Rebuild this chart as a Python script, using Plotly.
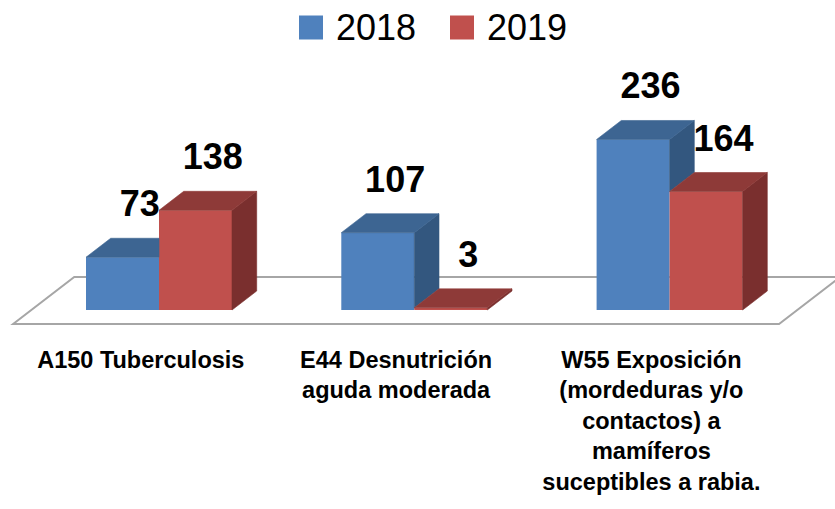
import plotly.graph_objects as go

# ---------------- data ----------------
categories = [
    "A150 Tuberculosis",
    "E44 Desnutrición<br>aguda moderada",
    "W55 Exposición<br>(mordeduras y/o<br>contactos) a<br>mamíferos<br>suceptibles a rabia.",
]
series_names = ["2018", "2019"]
values_2018 = [73, 107, 236]
values_2019 = [138, 3, 164]

# ---------------- styling / geometry ----------------
W_PX, H_PX = 835, 509
PB = 343                      # pixel row of the plot-area bottom
PX_PER_CAT = 255.3
PX_PER_VAL = 0.7225
ZERO_PX_X = 159.0             # pixel x of first category centre (bar front plane)
ZERO_PX_Y = 310.0             # pixel y of value 0 (bar front plane)

x_range = [(0 - ZERO_PX_X) / PX_PER_CAT, (W_PX - ZERO_PX_X) / PX_PER_CAT]
y_range = [(ZERO_PX_Y - PB) / PX_PER_VAL, ZERO_PX_Y / PX_PER_VAL]

KX = 1.3 / PX_PER_CAT         # depth -> x (per pixel of depth)
KV = 1.0 / PX_PER_VAL         # depth -> value (per pixel of depth)
BAR_DEPTH = 19
DDX, DDV = KX * BAR_DEPTH, KV * BAR_DEPTH
BAR_W = 73 / PX_PER_CAT

front = {"2018": "#4F81BD", "2019": "#C0504D"}
top = {"2018": "#3D6592", "2019": "#8E3A38"}
side = {"2018": "#33577F", "2019": "#7A2F2E"}

FONT = "Liberation Sans, Arial, sans-serif"

fig = go.Figure()
pos = list(range(len(categories)))

# front faces as real bars
for name, vals, off in [("2018", values_2018, -BAR_W), ("2019", values_2019, 0.0)]:
    fig.add_trace(go.Bar(
        x=pos, y=vals, name=name, offset=off, width=BAR_W,
        marker=dict(color=front[name], line=dict(width=0)),
        showlegend=False, hoverinfo="x+y",
    ))


def poly(xs, ys, color):
    fig.add_trace(go.Scatter(
        x=xs + [xs[0]], y=ys + [ys[0]], mode="lines", fill="toself",
        fillcolor=color, line=dict(color=color, width=0.6),
        hoverinfo="skip", showlegend=False,
    ))


for c, vb, vr in zip(pos, values_2018, values_2019):
    x0, x1, x2 = c - BAR_W, c, c + BAR_W
    # blue side (only part above red bar)
    if vb > vr:
        poly([x1, x1, x1 + DDX, x1 + DDX], [vr, vb, vb + DDV, vr + DDV], side["2018"])
        poly([x0, x1, x1 + DDX, x0 + DDX], [vb, vb, vb + DDV, vb + DDV], top["2018"])
    else:
        poly([x0, x1, x1, x0 + DDX], [vb, vb, vb + DDV, vb + DDV], top["2018"])
    # red side and top
    poly([x2, x2, x2 + DDX, x2 + DDX], [0, vr, vr + DDV, DDV], side["2019"])
    poly([x1, x2, x2 + DDX, x1 + DDX], [vr, vr, vr + DDV, vr + DDV], top["2019"])

# data labels
LABEL_PX = 31
for name, vals, shift in [("2018", values_2018, -BAR_W / 2), ("2019", values_2019, BAR_W / 2)]:
    fig.add_trace(go.Scatter(
        x=[c + shift + DDX / 2 + 5 / PX_PER_CAT for c in pos],
        y=[v + DDV + LABEL_PX * KV for v in vals],
        mode="text", text=[str(v) for v in vals],
        textfont=dict(family=FONT, size=36, color="#000000", weight="bold"),
        textposition="middle center", hoverinfo="skip", showlegend=False,
    ))

# floor of the 3D chart
FD0, FD1 = -14, 33
fl = [(-0.5 + KX * FD0, KV * FD0), (len(categories) - 0.5 + KX * FD0, KV * FD0),
      (len(categories) - 0.5 + KX * FD1, KV * FD1), (-0.5 + KX * FD1, KV * FD1)]
path = "M " + " L ".join(f"{x},{y}" for x, y in fl) + " Z"
fig.add_shape(type="path", path=path, xref="x", yref="y", layer="below",
              line=dict(color="#A6A6A6", width=2))

# legend (manual, large keys)
leg_y = 1 - 27.5 / PB
for name, kx0, tx in [("2018", 299, 334), ("2019", 450, 485)]:
    fig.add_shape(type="rect", xref="paper", yref="paper",
                  x0=kx0 / W_PX, x1=(kx0 + 24) / W_PX,
                  y0=1 - 39.5 / PB, y1=1 - 15.5 / PB,
                  fillcolor=front[name], line=dict(width=0))
    fig.add_annotation(xref="paper", yref="paper", x=tx / W_PX, y=leg_y,
                       text=name, showarrow=False, xanchor="left", yanchor="middle",
                       font=dict(family=FONT, size=36, color="#000000"))

fig.update_layout(
    width=W_PX, height=H_PX,
    margin=dict(l=0, r=0, t=0, b=H_PX - PB, pad=0),
    paper_bgcolor="white", plot_bgcolor="white",
    showlegend=False,
    xaxis=dict(range=x_range, showgrid=False, zeroline=False, showline=False,
               tickmode="array",
               tickvals=[c + KX * FD0 for c in pos], ticktext=categories,
               tickfont=dict(family=FONT, size=23.5, color="#000000", weight="bold"),
               ticks="", fixedrange=True),
    yaxis=dict(range=y_range, visible=False, fixedrange=True),
)

fig.write_html("out.html", config={"displayModeBar": False},
               post_script="document.body.style.margin='0';document.body.style.overflow='hidden';")
